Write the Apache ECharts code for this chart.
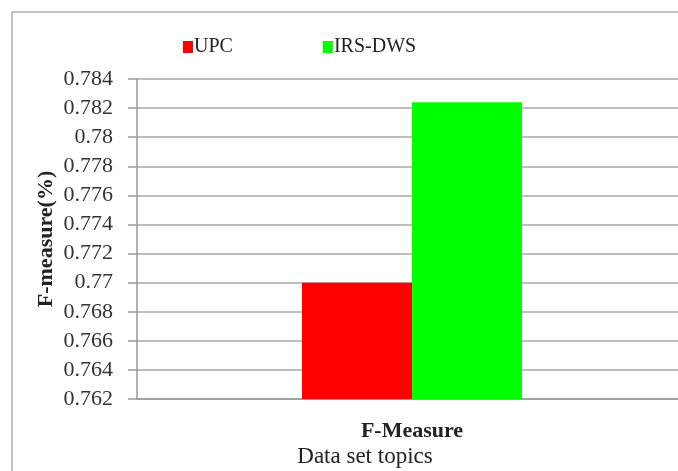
<!DOCTYPE html>
<html>
<head>
<meta charset="utf-8">
<script src="https://cdn.jsdelivr.net/npm/echarts@6/dist/echarts.min.js"></script>
<style>
  html, body { margin: 0; padding: 0; background: #fff; }
  #chart { width: 678px; height: 471px; }
</style>
</head>
<body>
<div id="chart"></div>
<script>
// F-measure comparison of the two methods
const categories = ['F-Measure'];
const upcValues = [0.770];
const irsDwsValues = [0.7824];
const seriesNames = ['UPC', 'IRS-DWS'];

const serif = '"Liberation Serif", "DejaVu Serif", serif';
const chart = echarts.init(document.getElementById('chart'));

chart.setOption({
  backgroundColor: '#ffffff',
  animation: false,
  graphic: [{
    type: 'rect',
    shape: { x: 12, y: 12, width: 700, height: 500 },
    style: { fill: 'none', stroke: '#b0b0b0', lineWidth: 1.5 },
    z: -1
  }],
  legend: {
    data: seriesNames,
    left: 183,
    top: 37,
    padding: 0,
    itemWidth: 10,
    itemHeight: 12,
    itemGap: 90,
    icon: 'rect',
    textStyle: { fontFamily: serif, fontSize: 20, color: '#222', padding: [0, 0, 0, -4] }
  },
  grid: { left: 137, width: 550, top: 79, bottom: 72, containLabel: false, outerBoundsMode: 'none' },
  xAxis: {
    type: 'category',
    data: categories,
    name: 'Data set topics',
    nameLocation: 'middle',
    nameGap: 46,
    nameMoveOverlap: false,
    nameTextStyle: { fontFamily: serif, fontSize: 23, color: '#222', padding: [0, 94, 0, 0] },
    axisLine: { lineStyle: { color: '#999', width: 1.5 } },
    axisTick: { show: false },
    axisLabel: { fontFamily: serif, fontSize: 22, color: '#222', fontWeight: 'bold', margin: 21 }
  },
  yAxis: {
    type: 'value',
    min: 0.762,
    max: 0.784,
    interval: 0.002,
    name: 'F-measure(%)',
    nameLocation: 'middle',
    nameGap: 80,
    nameMoveOverlap: false,
    nameTextStyle: { fontFamily: serif, fontSize: 22, color: '#222', fontWeight: 'bold' },
    axisLine: { show: true, lineStyle: { color: '#999', width: 1.5 } },
    axisTick: { show: true, length: 9, lineStyle: { color: '#999', width: 1.5 } },
    axisLabel: {
      fontFamily: serif, fontSize: 22, color: '#333', margin: 24,
      formatter: v => String(parseFloat(v.toFixed(3)))
    },
    splitLine: { lineStyle: { color: '#a8a8a8', width: 1.5 } }
  },
  series: [
    {
      name: seriesNames[0],
      type: 'bar',
      data: upcValues,
      itemStyle: { color: '#ff0000' },
      barGap: '0%',
      barCategoryGap: '60%'
    },
    {
      name: seriesNames[1],
      type: 'bar',
      data: irsDwsValues,
      itemStyle: { color: '#00ff00' }
    }
  ]
});
</script>
</body>
</html>
